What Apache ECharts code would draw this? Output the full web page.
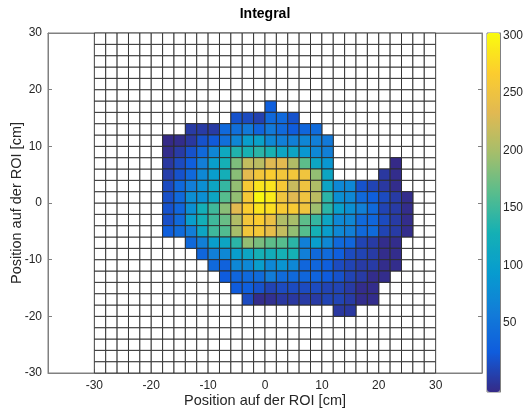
<!DOCTYPE html>
<html>
<head>
<meta charset="utf-8">
<script src="https://cdn.jsdelivr.net/npm/echarts@6/dist/echarts.min.js"></script>
<style>
  html, body { margin: 0; padding: 0; background: #fff; }
  #chart { width: 524px; height: 412px; }
</style>
</head>
<body>
<div id="chart"></div>
<script>
// Cell centres (cm) of the measured block, 2 cm cells
const xCenters = [-17, -15, -13, -11, -9, -7, -5, -3, -1, 1, 3, 5, 7, 9, 11, 13, 15, 17, 19, 21, 23, 25];
const yCenters = [17, 15, 13, 11, 9, 7, 5, 3, 1, -1, -3, -5, -7, -9, -11, -13, -15, -17, -19];

// Integral per cell (null = no measurement), one row per yCenters entry
const _ = null;
const integral = [
  [_, _, _, _, _, _, _, _, _, 28, _, _, _, _, _, _, _, _, _, _, _, _],
  [_, _, _, _, _, _, 18, 13, 6, 38, 38, 18, _, _, _, _, _, _, _, _, _, _],
  [_, _, 2, 2, 2, 38, 45, 55, 33, 55, 38, 25, 35, 40, _, _, _, _, _, _, _, _],
  [-10, -8, 0, 18, 23, 45, 69, 98, 102, 72, 62, 62, 69, 62, 55, _, _, _, _, _, _, _],
  [-8, 2, 18, 38, 69, 115, 135, 130, 140, 130, 110, 108, 88, 72, 62, _, _, _, _, _, _, _],
  [0, 13, 28, 60, 98, 128, 180, 215, 210, 232, 235, 205, 165, 110, 88, _, _, _, _, _, -10, _],
  [4, 18, 38, 72, 98, 125, 185, 235, 255, 265, 255, 255, 252, 190, 110, _, _, _, _, 0, -8, _],
  [13, 38, 60, 80, 110, 145, 190, 260, 285, 285, 260, 218, 250, 203, 108, 72, 72, 18, 8, 0, -8, _],
  [16, 38, 78, 80, 110, 162, 190, 258, 300, 290, 252, 233, 250, 210, 140, 80, 72, 38, 28, 13, 2, -8],
  [18, 35, 80, 125, 150, 185, 235, 265, 285, 280, 262, 262, 252, 195, 140, 100, 80, 62, 38, 8, 2, -8],
  [16, 38, 98, 125, 150, 170, 205, 255, 265, 245, 205, 200, 165, 145, 110, 72, 69, 38, 35, 13, 2, -8],
  [28, 40, 60, 110, 150, 160, 200, 255, 258, 240, 215, 190, 162, 128, 98, 72, 62, 38, 40, 8, 2, -8],
  [_, _, 38, 62, 98, 110, 140, 190, 178, 165, 162, 140, 62, 98, 72, 38, 35, 8, 2, -8, -8, _],
  [_, _, _, 35, 62, 72, 98, 110, 128, 122, 128, 128, 62, 38, 40, 28, 13, 8, 2, -8, -8, _],
  [_, _, _, _, 38, 31, 72, 72, 98, 72, 85, 72, 35, 35, 28, 13, 8, 2, 2, -8, -8, _],
  [_, _, _, _, _, 25, 35, 38, 40, 58, 40, 38, 35, 33, 25, 18, 8, 2, -8, -8, _, _],
  [_, _, _, _, _, _, 25, 28, 18, 8, 13, 13, 13, 13, 8, 8, 2, -8, -8, _, _, _],
  [_, _, _, _, _, _, _, 13, -8, -6, 0, 0, 2, 2, 8, 8, 2, -8, -8, _, _, _],
  [_, _, _, _, _, _, _, _, _, _, _, _, _, _, _, 0, 0, _, _, _, _, _]
];

// Full ROI raster: cell centres from -29 to 29 cm on both axes
const roiCenters = [-29, -27, -25, -23, -21, -19, -17, -15, -13, -11, -9, -7, -5, -3, -1,
                    1, 3, 5, 7, 9, 11, 13, 15, 17, 19, 21, 23, 25, 27, 29];

const axisTicks = [-30, -20, -10, 0, 10, 20, 30];
const colorbarTicks = [50, 100, 150, 200, 250, 300];
const colorRange = [-10, 302];

// parula colour map
const parula = ['#352a87', '#0f5cdd', '#127dd8', '#079ccf', '#15b0b4',
                '#59bd8c', '#a5be6b', '#e1b952', '#fccd2e', '#f9fb0e'];

const cells = [];
const filled = new Set();
yCenters.forEach((y, r) => {
  xCenters.forEach((x, c) => {
    const v = integral[r][c];
    if (v !== null) {
      cells.push([x, y, v]);
      filled.add(x + ',' + y);
    }
  });
});
const emptyCells = [];
roiCenters.forEach(y => roiCenters.forEach(x => {
  if (!filled.has(x + ',' + y)) emptyCells.push([x, y]);
}));

const FONT = '"Liberation Sans", Arial, sans-serif';
const TEXT = '#262626';
const FRAME = '#808080';

function cellRect(api, fill) {
  const x = api.value(0), y = api.value(1);
  const a = api.coord([x - 1, y + 1]);
  const b = api.coord([x + 1, y - 1]);
  return {
    type: 'rect',
    shape: { x: a[0], y: a[1], width: b[0] - a[0], height: b[1] - a[1] },
    style: { fill: fill, stroke: '#2a2a2a', lineWidth: 0.9 }
  };
}

const frameLine = { show: true, onZero: false, lineStyle: { color: FRAME } };
const frameTick = { show: true, inside: true, length: 4, customValues: axisTicks, lineStyle: { color: FRAME } };

const chart = echarts.init(document.getElementById('chart'), null, { renderer: 'canvas' });
chart.setOption({
  animation: false,
  backgroundColor: '#fff',
  textStyle: { fontFamily: FONT },
  graphic: [{
    type: 'text', x: 265, y: 14,
    style: { text: 'Integral', font: 'bold 14px ' + FONT, fill: '#000',
             textAlign: 'center', textVerticalAlign: 'middle', verticalAlign: 'middle' }
  }],
  grid: [
    { left: 48, top: 33, width: 434, height: 340, outerBoundsMode: 'none', containLabel: false,
      show: true, borderColor: FRAME, borderWidth: 1, backgroundColor: '#fff' },
    { left: 487, top: 33, width: 13, height: 359, outerBoundsMode: 'none', containLabel: false,
      show: true, borderColor: FRAME, borderWidth: 1 }
  ],
  xAxis: [
    {
      type: 'value', gridIndex: 0, min: -38.15, max: 38.15, position: 'bottom',
      name: 'Position auf der ROI [cm]', nameLocation: 'middle', nameGap: 20, nameMoveOverlap: false,
      nameTextStyle: { color: TEXT, fontSize: 14.5, fontFamily: FONT, verticalAlign: 'top' },
      axisLine: frameLine, axisTick: frameTick,
      axisLabel: { customValues: axisTicks, color: TEXT, fontSize: 12, margin: 7, fontFamily: FONT },
      splitLine: { show: false }
    },
    {
      type: 'value', gridIndex: 0, min: -38.15, max: 38.15, position: 'top',
      axisLine: frameLine, axisTick: frameTick,
      axisLabel: { show: false }, splitLine: { show: false }
    },
    { type: 'value', gridIndex: 1, show: false, min: 0, max: 1 }
  ],
  yAxis: [
    {
      type: 'value', gridIndex: 0, min: -30, max: 30, position: 'left',
      name: 'Position auf der ROI [cm]', nameLocation: 'middle', nameGap: 24, nameRotate: 90,
      nameMoveOverlap: false,
      nameTextStyle: { color: TEXT, fontSize: 14.5, fontFamily: FONT },
      axisLine: frameLine, axisTick: frameTick,
      axisLabel: { customValues: axisTicks, color: TEXT, fontSize: 12, margin: 6, fontFamily: FONT },
      splitLine: { show: false }
    },
    {
      type: 'value', gridIndex: 0, min: -30, max: 30, position: 'right',
      axisLine: frameLine, axisTick: frameTick,
      axisLabel: { show: false }, splitLine: { show: false }
    },
    {
      type: 'value', gridIndex: 1, min: colorRange[0], max: colorRange[1], position: 'right',
      axisLine: { show: true, onZero: false, lineStyle: { color: FRAME } },
      axisTick: { show: true, inside: true, length: 3, customValues: colorbarTicks, lineStyle: { color: FRAME } },
      axisLabel: { customValues: colorbarTicks, color: TEXT, fontSize: 12, margin: 3, fontFamily: FONT },
      splitLine: { show: false }
    }
  ],
  visualMap: {
    type: 'continuous', seriesIndex: 0, dimension: 2,
    min: colorRange[0], max: colorRange[1],
    calculable: false, hoverLink: false, text: null,
    left: 487, top: 33, itemWidth: 13, itemHeight: 359, padding: 0,
    inRange: { color: parula }
  },
  series: [
    {
      type: 'custom', name: 'Integral', xAxisIndex: 0, yAxisIndex: 0,
      data: cells, encode: { x: 0, y: 1 },
      renderItem: (params, api) => cellRect(api, api.visual('color')),
      z: 3
    },
    {
      type: 'custom', name: 'ROI', xAxisIndex: 0, yAxisIndex: 0,
      data: emptyCells, encode: { x: 0, y: 1 },
      renderItem: (params, api) => cellRect(api, '#ffffff'),
      z: 2
    }
  ]
});
</script>
</body>
</html>
